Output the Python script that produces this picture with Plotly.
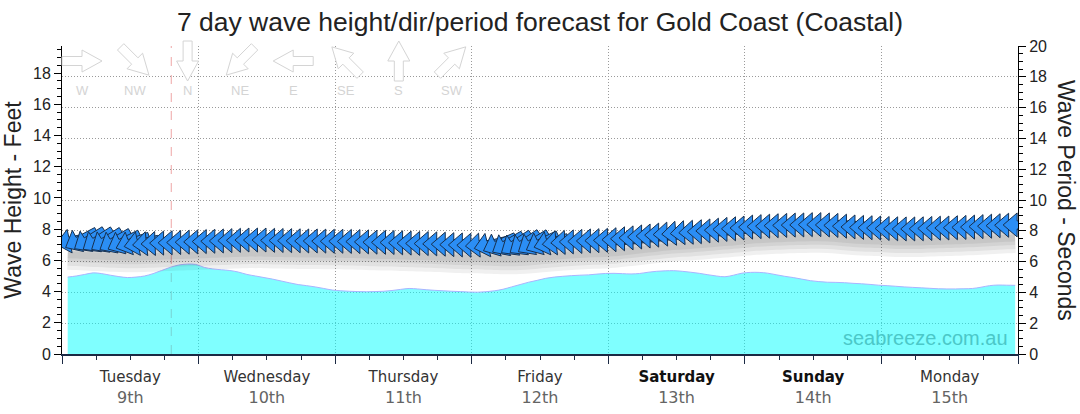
import math
import plotly.graph_objects as go

# ---------------- data ----------------
DAYS = ["Tuesday", "Wednesday", "Thursday", "Friday", "Saturday", "Sunday", "Monday"]
DATES = ["9th", "10th", "11th", "12th", "13th", "14th", "15th"]
WEEKEND = ["Saturday", "Sunday"]

# forecast time grid (hours after Tuesday 00:00), 1.5-hourly
HOURS = [1 + 1.5 * i for i in range(112)]

WAVE_HEIGHT_FT = [
    4.93, 5.00, 5.10, 5.20, 5.15, 5.05, 4.96, 4.90, 4.93, 5.00, 5.15, 5.35, 5.55, 5.70, 5.76, 5.74,
    5.55, 5.45, 5.40, 5.35, 5.25, 5.10, 5.00, 4.90, 4.80, 4.68, 4.56, 4.45, 4.38, 4.30, 4.20, 4.10,
    4.05, 4.02, 4.00, 3.99, 4.00, 4.02, 4.07, 4.14, 4.20, 4.17, 4.12, 4.08, 4.05, 4.02, 4.00, 3.97,
    3.96, 3.99, 4.05, 4.15, 4.30, 4.45, 4.60, 4.72, 4.85, 4.93, 4.98, 5.02, 5.05, 5.07, 5.12, 5.16,
    5.17, 5.15, 5.13, 5.16, 5.24, 5.30, 5.33, 5.34, 5.30, 5.24, 5.17, 5.08, 5.00, 4.95, 5.05, 5.18,
    5.23, 5.23, 5.18, 5.08, 4.98, 4.90, 4.80, 4.70, 4.64, 4.60, 4.59, 4.57, 4.53, 4.50, 4.46, 4.41,
    4.38, 4.34, 4.30, 4.27, 4.24, 4.21, 4.18, 4.17, 4.17, 4.18, 4.20, 4.28, 4.38, 4.42, 4.41, 4.40,
]

WAVE_PERIOD_S = [
    7.30, 7.28, 7.25, 7.22, 7.20, 7.17, 7.15, 7.14, 7.14, 7.15, 7.17, 7.20, 7.22, 7.24, 7.26, 7.28,
    7.30, 7.32, 7.34, 7.36, 7.38, 7.40, 7.40, 7.40, 7.38, 7.37, 7.36, 7.35, 7.34, 7.34, 7.33, 7.32,
    7.32, 7.31, 7.30, 7.28, 7.26, 7.25, 7.24, 7.22, 7.20, 7.18, 7.17, 7.15, 7.13, 7.10, 7.08, 7.06,
    7.06, 7.04, 7.02, 7.00, 7.00, 7.02, 7.05, 7.10, 7.15, 7.20, 7.24, 7.28, 7.31, 7.34, 7.36, 7.38,
    7.42, 7.48, 7.54, 7.60, 7.66, 7.72, 7.78, 7.83, 7.87, 7.90, 7.94, 7.99, 8.04, 8.09, 8.13, 8.18,
    8.24, 8.27, 8.30, 8.33, 8.35, 8.37, 8.38, 8.40, 8.40, 8.38, 8.35, 8.30, 8.25, 8.22, 8.20, 8.18,
    8.15, 8.13, 8.12, 8.12, 8.13, 8.15, 8.17, 8.18, 8.20, 8.22, 8.24, 8.27, 8.30, 8.33, 8.36, 8.38,
]

# direction waves come FROM (degrees, compass)
WAVE_DIR_DEG = [
    78, 62, 58, 57, 58, 60, 64, 70, 78, 84, 88, 90, 90, 90, 90, 90,
    90, 90, 90, 90, 90, 90, 90, 90, 90, 90, 90, 90, 90, 90, 90, 90,
    90, 90, 90, 90, 90, 90, 90, 90, 90, 90, 90, 90, 90, 90, 90, 90,
    86, 76, 66, 60, 57, 56, 58, 64, 74, 84, 88, 90, 90, 90, 90, 90,
    90, 90, 90, 90, 90, 90, 88, 86, 86, 88, 90, 90, 90, 90, 90, 90,
    90, 90, 90, 90, 90, 90, 90, 90, 90, 90, 90, 90, 90, 90, 90, 90,
    90, 90, 90, 90, 90, 90, 90, 90, 90, 90, 90, 90, 90, 90, 90, 90,
]

NOW_HOUR = 19.2

COMPASS_LABELS = ["W", "NW", "N", "NE", "E", "SE", "S", "SW"]
COMPASS_DEG = [270, 315, 0, 45, 90, 135, 180, 225]

# ---------------- helpers ----------------
def arrow_path(from_deg, pts):
    """Pixel path of a block arrow travelling away from from_deg (y up)."""
    b = math.radians(from_deg + 180)
    ux, uy = math.sin(b), math.cos(b)
    vx, vy = -uy, ux
    xy = [(u * ux + v * vx, u * uy + v * vy) for u, v in pts]
    return "M " + " L ".join(f"{x:.2f},{y:.2f}" for x, y in xy) + " Z"

DATA_ARROW = [(12, 0), (-2, 12), (-2, 4), (-23, 4), (-23, -4), (-2, -4), (-2, -12)]
LEGEND_ARROW = [(20, 0), (0, 11), (0, 4.5), (-20, 4.5), (-20, -4.5), (0, -4.5), (0, -11)]

FONT = "Liberation Sans, Arial, sans-serif"
AXIS_COL = "#1b2a44"
GRID_COL = "#9a9a9a"
GRID_DASH = "1px,2px"

fig = go.Figure()

# wave height area
fig.add_trace(go.Scatter(
    x=HOURS, y=WAVE_HEIGHT_FT, mode="lines", fill="tozeroy",
    fillcolor="rgba(0,255,255,0.5)", line=dict(color="#a9b4ff", width=1, shape="spline"),
    hoverinfo="skip", showlegend=False, xaxis="x", yaxis="y"))

# soft shadow under the arrows (period axis)
shadow_y = [p - 0.85 for p in WAVE_PERIOD_S]
for w in [30, 22, 14, 7]:
    fig.add_trace(go.Scatter(
        x=HOURS, y=shadow_y, mode="lines",
        line=dict(color="rgba(0,0,0,0.06)", width=w, shape="spline"),
        hoverinfo="skip", showlegend=False, xaxis="x", yaxis="y2"))

# dummy traces for the label axis and the grid axis
fig.add_trace(go.Scatter(
    x=HOURS, y=WAVE_HEIGHT_FT, mode="lines", line=dict(width=0, color="rgba(0,0,0,0)"),
    hoverinfo="skip", showlegend=False, xaxis="x2", yaxis="y"))
fig.add_trace(go.Scatter(
    x=HOURS, y=WAVE_PERIOD_S, mode="lines", line=dict(width=0, color="rgba(0,0,0,0)"),
    hoverinfo="skip", showlegend=False, xaxis="x", yaxis="y3"))

shapes = []
# "now" marker
shapes.append(dict(type="line", xref="x", yref="paper", x0=NOW_HOUR, x1=NOW_HOUR, y0=0, y1=1,
                   layer="below", line=dict(color="rgb(238,165,165)", width=1, dash="dash")))

# direction arrows positioned at (time, period)
for h, p, d in zip(HOURS, WAVE_PERIOD_S, WAVE_DIR_DEG):
    shapes.append(dict(type="path", xref="x", yref="y2", xsizemode="pixel", ysizemode="pixel",
                       xanchor=h, yanchor=p, path=arrow_path(d, DATA_ARROW),
                       fillcolor="#2b8ef5", line=dict(color="#17304f", width=1), layer="above"))

# compass legend
annotations = []
PLOT_W, PLOT_H = 956, 308
for i, (lab, deg) in enumerate(zip(COMPASS_LABELS, COMPASS_DEG)):
    xp = (20 + 52.8 * i) / PLOT_W
    shapes.append(dict(type="path", xref="paper", yref="paper", xsizemode="pixel", ysizemode="pixel",
                       xanchor=xp, yanchor=(PLOT_H - 15) / PLOT_H, path=arrow_path(deg, LEGEND_ARROW),
                       fillcolor="white", line=dict(color="#d4d4d4", width=1), layer="above"))
    annotations.append(dict(text=lab, xref="paper", yref="paper", x=xp, y=(PLOT_H - 44) / PLOT_H,
                            showarrow=False, xanchor="center", yanchor="middle",
                            font=dict(family=FONT, size=13, color="#d4d4d4")))

# right axis title (reads top to bottom)
annotations.append(dict(text="Wave Period - Seconds", xref="paper", yref="paper", x=(1066 - 62) / PLOT_W,
                        y=0.5, showarrow=False, textangle=90, xanchor="center", yanchor="middle",
                        font=dict(family=FONT, size=23, color="#222")))
# watermark
annotations.append(dict(text="seabreeze.com.au", xref="paper", yref="paper", x=(925 - 62) / PLOT_W,
                        y=16 / PLOT_H, showarrow=False, xanchor="center", yanchor="middle",
                        font=dict(family=FONT, size=20, color="#4bc8c8")))

ticktext = []
for day, date in zip(DAYS, DATES):
    if day in WEEKEND:
        top = f"<span style='color:#111;font-size:15px'><b>{day}</b></span>"
    else:
        top = f"<span style='color:#333;font-size:15px'>{day}</span>"
    ticktext.append(top + f"<br><span style='color:#646464'>{date}</span>")

fig.update_layout(
    width=1080, height=414, autosize=False,
    margin=dict(l=62, r=62, t=46, b=60),
    paper_bgcolor="white", plot_bgcolor="white",
    title=dict(text="7 day wave height/dir/period forecast for Gold Coast (Coastal)",
               x=0.5, xref="paper", y=1 - 22 / 414, yref="container", yanchor="middle", xanchor="center",
               font=dict(family=FONT, size=26.5, color="#222")),
    xaxis=dict(range=[0, 168], tickmode="array", tickvals=[0, 24, 48, 72, 96, 120, 144, 168],
               showticklabels=False, ticks="outside", ticklen=8, tickcolor=AXIS_COL,
               showline=True, linecolor=AXIS_COL, linewidth=2, automargin=False,
               showgrid=True, gridcolor=GRID_COL, griddash=GRID_DASH, gridwidth=1, zeroline=False,
               minor=dict(tickmode="linear", tick0=0, dtick=6, ticks="outside", ticklen=4,
                          tickcolor=AXIS_COL, showgrid=False)),
    xaxis2=dict(range=[0, 168], overlaying="x", side="bottom", tickmode="array",
                tickvals=[12, 36, 60, 84, 108, 132, 156], ticktext=ticktext, ticks="",
                showgrid=False, showline=False, zeroline=False, ticklabelstandoff=11,
                automargin=False,
                tickfont=dict(family="DejaVu Sans", size=16, color="#646464")),
    yaxis=dict(range=[0, 19.74], tickmode="array", tickvals=list(range(0, 20, 2)),
               ticks="outside", ticklen=7, tickcolor="black", showline=True, linecolor="black",
               linewidth=1, showgrid=False, zeroline=False, automargin=False,
               minor=dict(tickmode="linear", tick0=0, dtick=0.5, ticks="outside", ticklen=4,
                          tickcolor="black", showgrid=False),
               tickfont=dict(family=FONT, size=16, color="#222"),
               title=dict(text="Wave Height - Feet", font=dict(family=FONT, size=23, color="#222"),
                          standoff=8)),
    yaxis2=dict(range=[0, 20], overlaying="y", side="right", tickmode="array",
                tickvals=list(range(0, 21, 2)), ticks="outside", ticklen=7, tickcolor="black",
                showline=True, linecolor="black", linewidth=1, zeroline=False, showgrid=False,
                automargin=False,
                minor=dict(tickmode="linear", tick0=0, dtick=0.5, ticks="outside", ticklen=4,
                           tickcolor="black", showgrid=False),
                tickfont=dict(family=FONT, size=16, color="#222")),
    yaxis3=dict(range=[0, 20], overlaying="y", side="right", tickmode="array",
                tickvals=list(range(2, 20, 2)), ticks="", showticklabels=False, showline=False,
                automargin=False,
                zeroline=False, showgrid=True, gridcolor=GRID_COL, griddash=GRID_DASH, gridwidth=1),
    shapes=shapes, annotations=annotations, showlegend=False,
)

fig.write_html("out.html")
